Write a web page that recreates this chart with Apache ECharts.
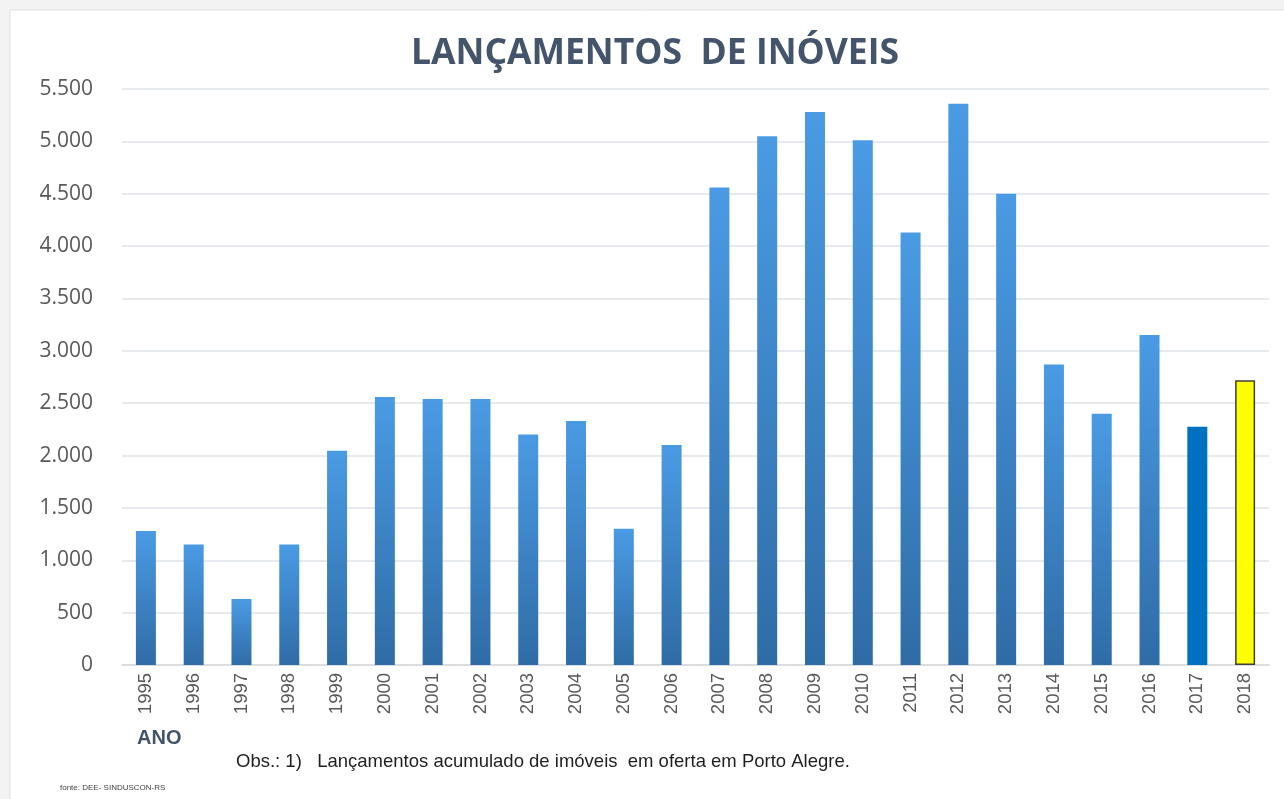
<!DOCTYPE html>
<html>
<head>
<meta charset="utf-8">
<script src="https://cdn.jsdelivr.net/npm/echarts@6/dist/echarts.min.js"></script>
<style>
html,body{margin:0;padding:0;background:#f3f3f3;}
#main{width:1284px;height:799px;}
</style>
</head>
<body>
<div id="main"></div>
<script>
var anos = ['1995','1996','1997','1998','1999','2000','2001','2002','2003','2004','2005','2006',
            '2007','2008','2009','2010','2011','2012','2013','2014','2015','2016','2017','2018'];
var lancamentos = [1280,1150,630,1150,2045,2560,2540,2540,2200,2330,1300,2100,
                   4560,5050,5280,5010,4130,5360,4500,2870,2400,3150,2275,2720];
var yTicks = ['0','500','1.000','1.500','2.000','2.500','3.000','3.500','4.000','4.500','5.000','5.500'];

var gradiente = new echarts.graphic.LinearGradient(0, 0, 0, 1, [
    {offset: 0, color: '#4a9be4'},
    {offset: 1, color: '#2f6ca6'}
]);

var dados = lancamentos.map(function (v, i) {
    if (anos[i] === '2017') {
        return {value: v, itemStyle: {color: '#0070c0'}};
    }
    if (anos[i] === '2018') {
        return {value: v, itemStyle: {color: '#ffff00', borderColor: '#3f3f3f', borderWidth: 1.5}};
    }
    return {value: v, itemStyle: {color: gradiente}};
});

var myChart = echarts.init(document.getElementById('main'));
var option = {
    backgroundColor: '#f3f3f3',
    animation: false,
    graphic: [
        {type: 'rect', z: -10, shape: {x: 10, y: 10, width: 1280, height: 800},
         style: {fill: '#ffffff', stroke: '#d9dde5', lineWidth: 1}},
        {type: 'text', left: 137, top: 728,
         style: {text: 'ANO', font: 'bold 20px "Liberation Sans"', fill: '#44546a'}},
        {type: 'text', left: 236, top: 752,
         style: {text: 'Obs.: 1)   Lançamentos acumulado de imóveis  em oferta em Porto Alegre.',
                 font: '18.5px "Liberation Sans"', fill: '#1f1f1f'}},
        {type: 'text', left: 60, top: 784,
         style: {text: 'fonte: DEE- SINDUSCON-RS', font: '8px "Liberation Sans"', fill: '#404040'}}
    ],
    title: {
        text: 'LANÇAMENTOS  DE INÓVEIS',
        left: 650,
        textAlign: 'center',
        top: 31,
        textStyle: {fontFamily: 'Open Sans', fontWeight: 'bold', fontSize: 35.5, color: '#44546a'}
    },
    grid: {left: 122, right: 15, top: 89, bottom: 134},
    xAxis: {
        type: 'category',
        data: anos,
        axisTick: {show: false},
        axisLine: {lineStyle: {color: '#d9d9d9', width: 1.5}},
        axisLabel: {
            rotate: 90,
            margin: 8,
            fontSize: 18.5,
            fontFamily: '"Liberation Sans"',
            color: '#595959'
        }
    },
    yAxis: {
        type: 'value',
        min: 0,
        max: 5500,
        interval: 500,
        axisLine: {show: false},
        axisTick: {show: false},
        splitLine: {lineStyle: {color: '#dfe3ea', width: 1.5}},
        axisLabel: {
            margin: 29,
            fontSize: 21,
            fontFamily: 'Open Sans',
            color: '#595959',
            formatter: function (v) { return yTicks[Math.round(v / 500)]; }
        }
    },
    series: [{
        type: 'bar',
        barWidth: 20,
        data: dados
    }]
};
myChart.setOption(option);
</script>
</body>
</html>
